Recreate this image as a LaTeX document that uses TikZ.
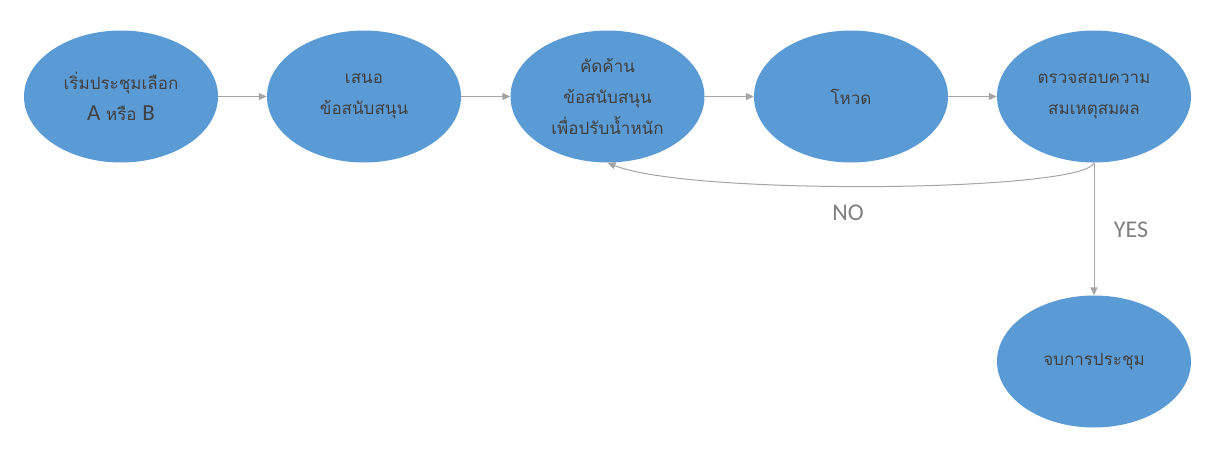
\documentclass[tikz,border=0pt]{standalone}
\usepackage{fontspec}
\setmainfont{Carlito}
\newfontfamily\thai[Script=Thai]{Loma}
\usetikzlibrary{shapes.geometric,arrows.meta}
\definecolor{fillblue}{HTML}{5B9BD5}
\definecolor{txtgray}{HTML}{404040}
\definecolor{linegray}{HTML}{A5A5A5}
\definecolor{lblgray}{HTML}{7F7F7F}
\tikzset{
  stepnode/.style={ellipse, fill=fillblue, draw=none, minimum width=194pt, minimum height=132pt, inner sep=0pt, align=center, text=txtgray, font=\thai\fontsize{17}{31}\selectfont},
  conn/.style={draw=linegray, line width=1pt, -{Triangle[length=8pt,width=7pt]}},
  lbl/.style={text=lblgray, font=\fontsize{24}{28}\selectfont, inner sep=0pt}
}
\begin{document}
\begin{tikzpicture}[x=1pt,y=-1pt]
\useasboundingbox (0,0) rectangle (1215,458);
\node[stepnode] (e1) at (121,96.5) {เริ่มประชุมเลือก\\{\fontsize{23}{31}\selectfont\rmfamily A} หรือ {\fontsize{23}{31}\selectfont\rmfamily B}};
\node[stepnode] (e2) at (364,96.5) {เสนอ\\ข้อสนับสนุน};
\node[stepnode] (e3) at (607.5,96.5) {คัดค้าน\\ข้อสนับสนุน\\เพื่อปรับน้ำหนัก};
\node[stepnode] (e4) at (851,96.5) {โหวด};
\node[stepnode] (e5) at (1094,96.5) {ตรวจสอบความ\\สมเหตุสมผล};
\node[stepnode] (e6) at (1094,361.5) {จบการประชุม};
\draw[conn] (e1) -- (e2);
\draw[conn] (e2) -- (e3);
\draw[conn] (e3) -- (e4);
\draw[conn] (e4) -- (e5);
\draw[conn] (e5.south) -- (e6.north);
\draw[conn] (e5.south) .. controls (1085,192) and (690,196) .. (e3.south);
\node[lbl] (no) at (848,213) {NO};
\node[lbl] (yes) at (1131,230) {YES};
\end{tikzpicture}
\end{document}
